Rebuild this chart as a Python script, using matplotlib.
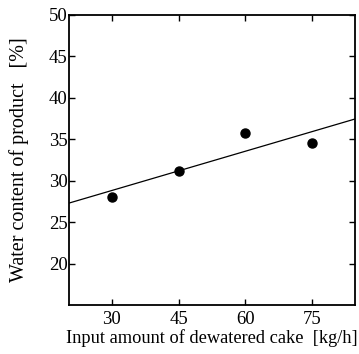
import numpy as np
import matplotlib.pyplot as plt

# input rate of dewatered cake [kg/h] vs water content of product [%]
feed_rate = [30, 45, 60, 75]
water_content = [28.1, 31.2, 35.7, 34.5]
x_ticks = [30, 45, 60, 75]
y_ticks = [20, 25, 30, 35, 40, 45, 50]

plt.rcParams['font.family'] = ['Liberation Serif', 'DejaVu Serif']

fig = plt.figure(figsize=(3.59, 3.54), dpi=100)
ax = fig.add_axes([0.192, 0.138, 0.797, 0.82])

ax.set_xlim(20.4, 84.6)
ax.set_ylim(15, 50)

# least squares trend line across the whole axis
coef = np.polyfit(feed_rate, water_content, 1)
xl = np.array(ax.get_xlim())
ax.plot(xl, np.polyval(coef, xl), color='black', lw=0.9)

ax.plot(feed_rate, water_content, 'o', color='black', ms=6.5)

ax.set_xticks(x_ticks)
ax.set_yticks(y_ticks)
ax.tick_params(direction='in', length=4, width=1, labelsize=13.5, pad=1,
               top=True, right=True, colors='black')
ax.tick_params(axis='x', pad=4)
for s in ax.spines.values():
    s.set_linewidth(1.3)

ax.set_xlabel('Input amount of dewatered cake  [kg/h]', fontsize=13.2, labelpad=1)
ax.set_ylabel('Water content of product   [%]', fontsize=14.5, labelpad=14)

fig.savefig('out.png', dpi=100)
